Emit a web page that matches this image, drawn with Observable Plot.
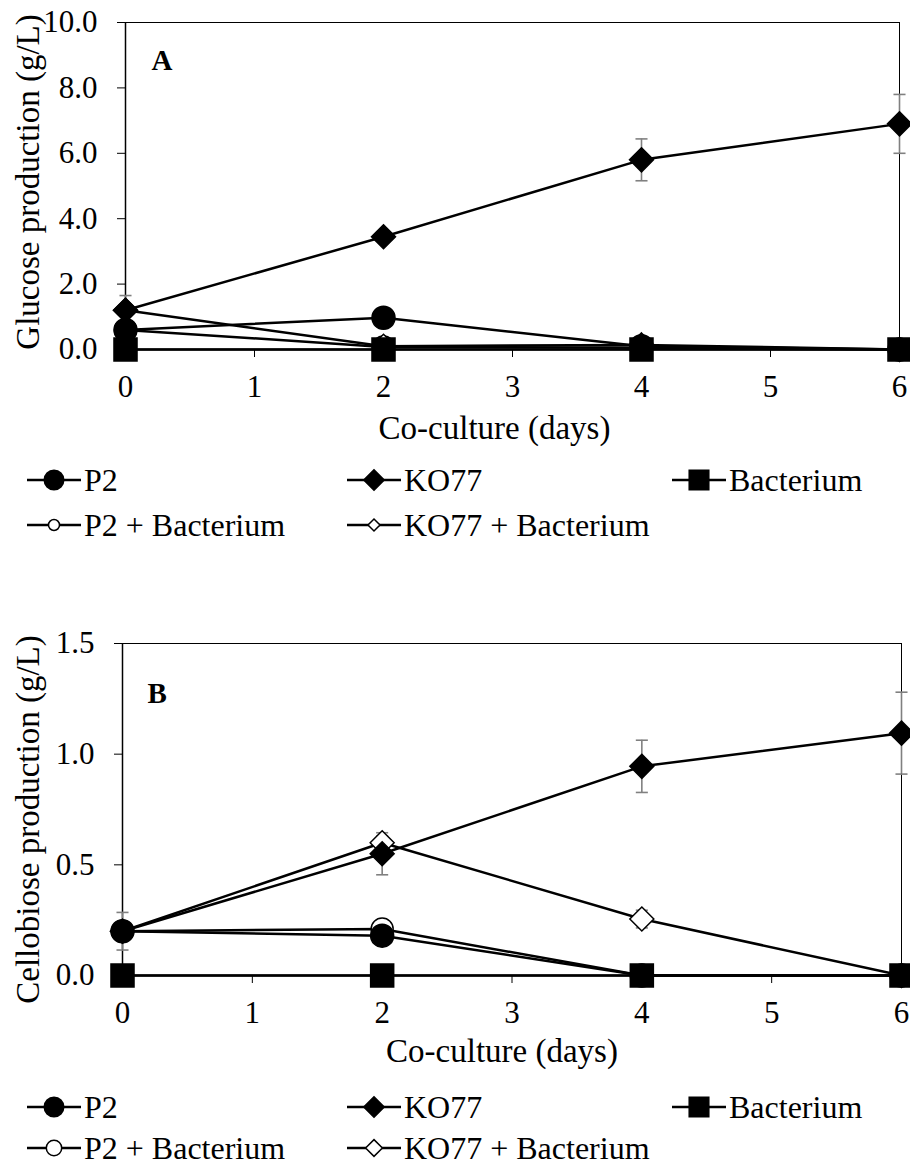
<!DOCTYPE html>
<html><head><meta charset="utf-8">
<script src="https://cdn.jsdelivr.net/npm/d3@7"></script>
<script src="https://cdn.jsdelivr.net/npm/@observablehq/plot@0.6"></script>
<style>
body{margin:0;background:#fff;width:910px;height:1166px;position:relative;overflow:hidden;font-family:"Liberation Serif","Times New Roman",serif;}
.panel{position:absolute;left:0;}
.legend{position:absolute;left:0;overflow:visible;}
</style></head><body>
<div id="panelA" class="panel" style="top:0px"></div>
<div id="panelB" class="panel" style="top:600px"></div>
<div id="legends"></div>
<script>
// ---------- data ----------
const days = [0, 2, 4, 6];
const xTicks = [0, 1, 2, 3, 4, 5, 6];
const seriesNames = ["P2", "KO77", "Bacterium", "P2 + Bacterium", "KO77 + Bacterium"];

// Panel A: glucose (g/L)
const glucoseP2          = [0.60, 0.97, 0.10, 0.00];
const glucoseKO77        = [1.20, 3.45, 5.80, 6.90];
const glucoseBacterium   = [0.00, 0.00, 0.00, 0.00];
const glucoseP2Bact      = [0.60, 0.08, 0.05, 0.00];
const glucoseKO77Bact    = [1.20, 0.10, 0.14, 0.00];
const glucoseKO77Err     = [0.45, 0.10, 0.64, 0.90];
const glucoseYTicks      = [0, 2, 4, 6, 8, 10];

// Panel B: cellobiose (g/L)
const cellP2             = [0.20, 0.18, 0.00, 0.00];
const cellKO77           = [0.20, 0.55, 0.945, 1.095];
const cellBacterium      = [0.00, 0.00, 0.00, 0.00];
const cellP2Bact         = [0.20, 0.21, 0.00, 0.00];
const cellKO77Bact       = [0.20, 0.60, 0.255, 0.00];
const cellP2Err          = [0.085, 0.00, 0.00, 0.00];
const cellKO77Err        = [0.02, 0.095, 0.118, 0.185];
const cellKO77BactErr    = [0.00, 0.03, 0.04, 0.00];
const cellYTicks         = [0, 0.5, 1.0, 1.5];

// ---------- helpers ----------
const font = '"Liberation Serif", "Times New Roman", serif';
const errColor = "#808080";
function rows(values, errs, name) {
  return days.map((d, i) => ({day: d, value: values[i], err: errs ? errs[i] : 0, series: name}));
}
const capSymbol = {draw(ctx, size) { const w = Math.sqrt(size) / 2; ctx.moveTo(-w, 0); ctx.lineTo(w, 0); }};

const styles = {
  "P2":               {symbol: "circle",   r: 11.5, fill: "black", stroke: "black"},
  "KO77":             {symbol: "diamond2", r: 10.8, fill: "black", stroke: "black"},
  "Bacterium":        {symbol: "square",   r: 13,   fill: "black", stroke: "black"},
  "P2 + Bacterium":   {symbol: "circle",   r: 11,   fill: "white", stroke: "black"},
  "KO77 + Bacterium": {symbol: "diamond2", r: 10.8, fill: "white", stroke: "black"}
};
const drawOrder = ["P2 + Bacterium", "KO77 + Bacterium", "Bacterium", "P2", "KO77"];

function panel(cfg) {
  const all = cfg.series.flat();
  const withErr = all.filter(d => d.err > 0);
  const marks = [
    Plot.frame({stroke: "black", strokeWidth: 1}),
    Plot.ruleX([0], {stroke: "black", strokeWidth: 1.5}),
    Plot.ruleY([0], {stroke: "black", strokeWidth: 2}),
    Plot.axisX({ticks: xTicks, tickSize: 8, tickPadding: 17, tickFormat: d => String(d), label: null}),
    Plot.axisY({ticks: cfg.yTicks, tickSize: 8, tickPadding: 20, tickFormat: d => d.toFixed(1), label: null}),
  ];
  for (const name of drawOrder) {
    const data = all.filter(d => d.series === name);
    marks.push(Plot.line(data, {x: "day", y: "value", stroke: "black", strokeWidth: 2.5}));
  }
  marks.push(Plot.ruleX(withErr, {x: "day", y1: d => d.value - d.err, y2: d => d.value + d.err, stroke: errColor, strokeWidth: 1.6}));
  marks.push(Plot.dot(withErr, {x: "day", y: d => d.value + d.err, symbol: capSymbol, r: 6.8, fill: "none", stroke: errColor, strokeWidth: 1.6}));
  marks.push(Plot.dot(withErr, {x: "day", y: d => d.value - d.err, symbol: capSymbol, r: 6.8, fill: "none", stroke: errColor, strokeWidth: 1.6}));
  for (const name of drawOrder) {
    const data = all.filter(d => d.series === name);
    const s = styles[name];
    marks.push(Plot.dot(data, {x: "day", y: "value", symbol: s.symbol, r: s.r, fill: s.fill, stroke: s.stroke, strokeWidth: 1.5}));
  }
  marks.push(Plot.text([cfg.panelLabel], {frameAnchor: "top-left", dx: cfg.labelDx, dy: cfg.labelDy, textAnchor: "start", lineAnchor: "middle", fontWeight: "bold", fontSize: 29, text: d => d}));
  marks.push(Plot.text([cfg.yLabel], {frameAnchor: "left", rotate: -90, dx: cfg.yLabelDx, dy: cfg.yLabelDy, textAnchor: "middle", lineAnchor: "middle", fontSize: 33, text: d => d}));
  marks.push(Plot.text([cfg.xLabel], {frameAnchor: "bottom", dx: cfg.xLabelDx, dy: cfg.xLabelDy, textAnchor: "middle", lineAnchor: "middle", fontSize: 33, text: d => d}));
  return Plot.plot({
    width: 910,
    height: cfg.height,
    marginLeft: cfg.marginLeft,
    marginRight: cfg.marginRight,
    marginTop: cfg.marginTop,
    marginBottom: cfg.marginBottom,
    style: {fontFamily: font, fontSize: "31px", color: "black", background: "white", overflow: "visible"},
    x: {domain: [0, 6]},
    y: {domain: cfg.yDomain},
    marks
  });
}

const seriesA = [
  rows(glucoseP2, null, "P2"),
  rows(glucoseKO77, glucoseKO77Err, "KO77"),
  rows(glucoseBacterium, null, "Bacterium"),
  rows(glucoseP2Bact, null, "P2 + Bacterium"),
  rows(glucoseKO77Bact, null, "KO77 + Bacterium")
];
const seriesB = [
  rows(cellP2, cellP2Err, "P2"),
  rows(cellKO77, cellKO77Err, "KO77"),
  rows(cellBacterium, null, "Bacterium"),
  rows(cellP2Bact, null, "P2 + Bacterium"),
  rows(cellKO77Bact, cellKO77BactErr, "KO77 + Bacterium")
];

document.getElementById("panelA").append(panel({
  series: seriesA, yDomain: [0, 10], yTicks: glucoseYTicks,
  height: 450, marginLeft: 125, marginRight: 11, marginTop: 22, marginBottom: 101,
  panelLabel: "A", labelDx: 26, labelDy: 38,
  yLabel: "Glucose production (g/L)", yLabelDx: -97, yLabelDy: -4,
  xLabel: "Co-culture (days)", xLabelDx: -18, xLabelDy: 79
}));
document.getElementById("panelB").append(panel({
  series: seriesB, yDomain: [0, 1.5], yTicks: cellYTicks,
  height: 475, marginLeft: 122, marginRight: 9, marginTop: 43, marginBottom: 100,
  panelLabel: "B", labelDx: 25, labelDy: 50,
  yLabel: "Cellobiose production (g/L)", yLabelDx: -94, yLabelDy: 10,
  xLabel: "Co-culture (days)", xLabelDx: -10, xLabelDy: 76
}));

// ---------- legends (SVG) ----------
const ns = "http://www.w3.org/2000/svg";
const legendCols = [27, 347, 672];
const legendLayout = [
  {name: "P2", col: 0, row: 0}, {name: "KO77", col: 1, row: 0}, {name: "Bacterium", col: 2, row: 0},
  {name: "P2 + Bacterium", col: 0, row: 1}, {name: "KO77 + Bacterium", col: 1, row: 1}
];
const typeMap = {circle: d3.symbolCircle, diamond2: d3.symbolDiamond2, square: d3.symbolSquare};
function el(tag, attrs) {
  const e = document.createElementNS(ns, tag);
  for (const k in attrs) e.setAttribute(k, attrs[k]);
  return e;
}
function legend(top, rowYs, small) {
  const svg = el("svg", {width: 910, height: 90, class: "legend"});
  svg.style.top = top + "px";
  svg.style.fontFamily = font;
  svg.style.fontSize = "32px";
  for (const item of legendLayout) {
    const s = styles[item.name];
    const x0 = legendCols[item.col];
    const y = rowYs[item.row] - top;
    svg.append(el("line", {x1: x0, x2: x0 + 54, y1: y, y2: y, stroke: "black", "stroke-width": 2.5}));
    const open = s.fill === "white";
    const r = s.r * (open ? (small ? 0.5 : 0.7) : 0.85);
    svg.append(el("path", {d: d3.symbol(typeMap[s.symbol], Math.PI * r * r)(), transform: `translate(${x0 + 27},${y})`,
      fill: s.fill, stroke: "black", "stroke-width": 1.5}));
    const t = el("text", {x: x0 + 57, y: y, dy: "0.35em", "font-family": font, "font-size": 32, fill: "black"});
    t.textContent = item.name;
    svg.append(t);
  }
  document.getElementById("legends").append(svg);
}
legend(455, [480, 525], true);
legend(1082, [1107, 1148], false);
</script>
</body></html>
